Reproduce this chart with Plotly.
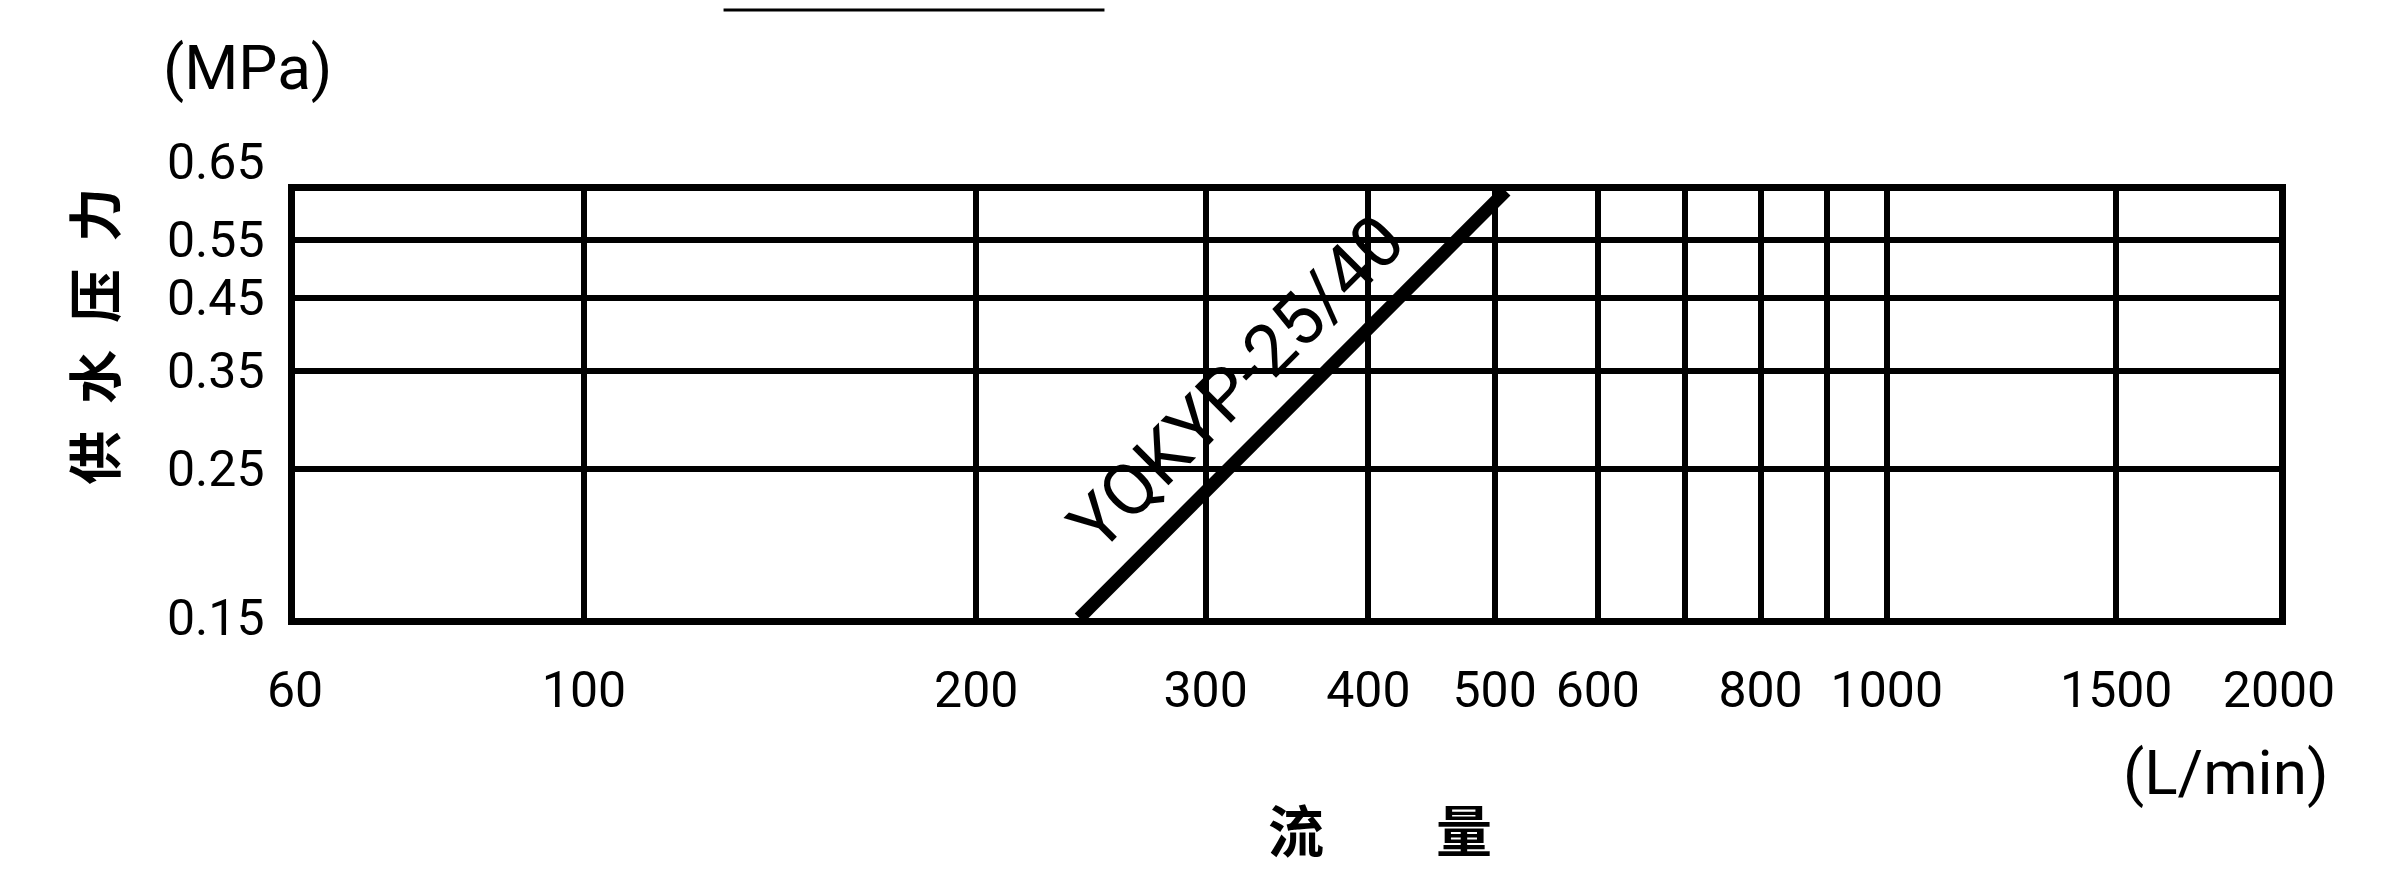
import numpy as np
import plotly.graph_objects as go

# ---- data ----
flow_ticks = [60, 100, 200, 300, 400, 500, 600, 700, 800, 900, 1000, 1500, 2000]
flow_labels = ["60", "100", "200", "300", "400", "500", "600", "", "800", "", "1000", "1500", "2000"]
pressure_ticks = [0.15, 0.25, 0.35, 0.45, 0.55, 0.65]
pressure_labels = ["0.15", "0.25", "0.35", "0.45", "0.55", "0.65"]
curve_name = "YQKYP-25/40"
curve_flow = [240, 510]
curve_pressure = [0.15, 0.65]

x_title = "流\u3000\u3000量"
y_title = "供\u2002水\u2002压\u2002力"
y_unit = "(MPa)"
x_unit = "(L/min)"

NUM = "Roboto, Liberation Sans, sans-serif"
CJK = "Noto Sans CJK SC, Noto Sans CJK JP, sans-serif"

fig = go.Figure()
fig.add_trace(go.Scatter(
    x=curve_flow, y=curve_pressure, mode="lines",
    line=dict(color="black", width=13), name=curve_name, showlegend=False,
))

mid_x = float(np.mean(np.log10(curve_flow)))
mid_y = float(np.mean(np.log10(curve_pressure)))

fig.add_annotation(
    x=mid_x, y=mid_y, xref="x", yref="y", text=curve_name, showarrow=False,
    textangle=-45, xshift=-56, yshift=22, xanchor="center", yanchor="middle",
    font=dict(family=NUM, size=72, color="black"),
)

# y tick labels (the top one sits above the frame, as in the reference)
top_val = max(pressure_ticks)
for v, lab in zip(pressure_ticks, pressure_labels):
    fig.add_annotation(
        x=0, y=float(np.log10(v)), xref="paper", yref="y", text=lab,
        showarrow=False, xanchor="right", yanchor="middle",
        xshift=-28, yshift=29 if v == top_val else 0,
        font=dict(family=NUM, size=50, color="black"),
    )

# axis titles / units
fig.add_annotation(x=-0.102, y=0.66, xref="paper", yref="paper", text=y_title,
                   showarrow=False, textangle=-90, xanchor="center", yanchor="middle",
                   font=dict(family=CJK, size=54, color="black", weight="bold"))
fig.add_annotation(x=0.547, y=-0.49, xref="paper", yref="paper", text=x_title,
                   showarrow=False, xanchor="center", yanchor="middle",
                   font=dict(family=CJK, size=56, color="black", weight="bold"))
fig.add_annotation(x=-0.024, y=1.29, xref="paper", yref="paper", text=y_unit,
                   showarrow=False, xanchor="center", yanchor="middle",
                   font=dict(family=NUM, size=62, color="black"))
fig.add_annotation(x=0.973, y=-0.362, xref="paper", yref="paper", text=x_unit,
                   showarrow=False, xanchor="center", yanchor="middle",
                   font=dict(family=NUM, size=62, color="black"))

# scan artifact line at the very top
fig.add_shape(type="line", xref="paper", yref="paper", x0=0.216, x1=0.408,
              y0=1.424, y1=1.424, line=dict(color="black", width=3))

fig.update_xaxes(
    type="log", range=[np.log10(60), np.log10(2000)],
    tickvals=flow_ticks, ticktext=flow_labels,
    showgrid=True, gridcolor="black", gridwidth=6,
    showline=True, linecolor="black", linewidth=7, mirror=True,
    ticks="", ticklabelstandoff=22, zeroline=False,
    tickfont=dict(family=NUM, size=50, color="black"),
)
fig.update_yaxes(
    type="log", range=[np.log10(0.15), np.log10(0.65)],
    tickvals=pressure_ticks, showticklabels=False,
    showgrid=True, gridcolor="black", gridwidth=6,
    showline=True, linecolor="black", linewidth=7, mirror=True,
    ticks="", zeroline=False,
)

fig.update_layout(
    width=2388, height=888,
    margin=dict(l=287, r=117, t=183, b=278, autoexpand=False),
    paper_bgcolor="white", plot_bgcolor="white",
    showlegend=False,
)

fig.write_html("out.html")
